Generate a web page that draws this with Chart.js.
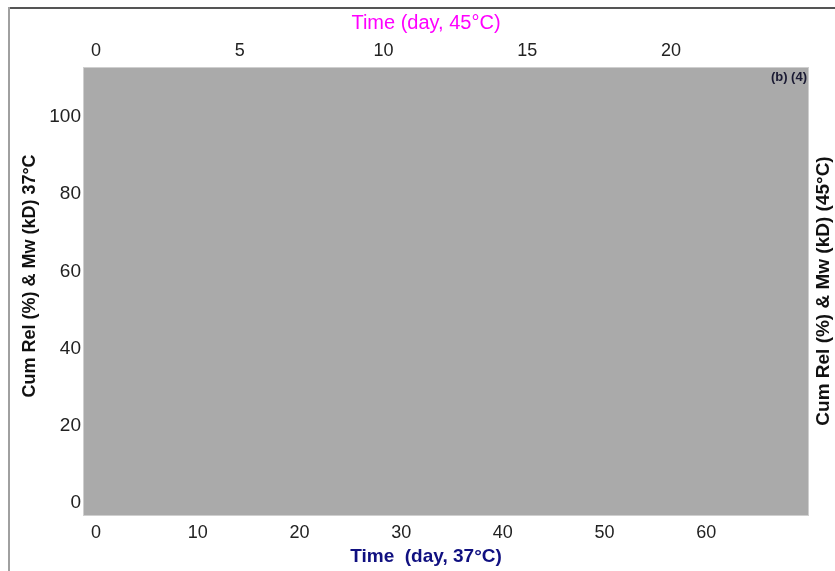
<!DOCTYPE html>
<html>
<head>
<meta charset="utf-8">
<script src="https://cdn.jsdelivr.net/npm/chart.js@4"></script>
<style>
  html,body{margin:0;padding:0;background:#fff;}
  #wrap{width:835px;height:571px;}
</style>
</head>
<body>
<div id="wrap"><canvas id="chart" width="835" height="571"></canvas></div>
<script>
// tick labels
const days37Ticks = [0,10,20,30,40,50,60];
const days45Ticks = [0,5,10,15,20];
const cumRelTicks = [0,20,40,60,80,100];

// series (the panel shows no points)
const cumRel37 = [];
const cumRel45 = [];

const FONT = "'Liberation Sans', Arial, sans-serif";

const frame = {
  id:"frame",
  beforeDraw(c){
    const ctx = c.ctx, a = c.chartArea;
    ctx.save();
    ctx.fillStyle = "#fff";
    ctx.fillRect(0,0,c.width,c.height);
    // plot background
    ctx.fillStyle = "#aaaaaa";
    ctx.fillRect(a.left,a.top,a.right-a.left,a.bottom-a.top);
    ctx.strokeStyle = "#cfcfcf";
    ctx.lineWidth = 1;
    ctx.strokeRect(a.left-0.5,a.top-0.5,a.right-a.left+1,a.bottom-a.top+1);
    // outer frame lines
    ctx.fillStyle = "#555";
    ctx.fillRect(8,7,c.width-8,2);
    ctx.fillStyle = "#a0a0a0";
    ctx.fillRect(8,7,2,c.height-7);
    ctx.restore();
  },
  afterDraw(c){
    const ctx = c.ctx, a = c.chartArea;
    ctx.save();
    ctx.textAlign = "center";
    ctx.textBaseline = "middle";
    // top title
    ctx.fillStyle = "#ff00ff";
    ctx.font = "20px " + FONT;
    ctx.fillText("Time (day, 45°C)", 426, 23);
    // bottom title
    ctx.fillStyle = "#101080";
    ctx.font = "bold 19px " + FONT;
    ctx.fillText("Time  (day, 37°C)", 426, 557);
    // left title
    ctx.fillStyle = "#111";
    ctx.font = "bold 18px " + FONT;
    ctx.save();
    ctx.translate(30,276);
    ctx.rotate(-Math.PI/2);
    ctx.fillText("Cum Rel (%) & Mw (kD) 37°C",0,0);
    ctx.restore();
    // right title
    ctx.font = "bold 19px " + FONT;
    ctx.save();
    ctx.translate(824,291);
    ctx.rotate(-Math.PI/2);
    ctx.fillText("Cum Rel (%) & Mw (kD) (45°C)",0,0);
    ctx.restore();
    // panel tag
    ctx.textAlign = "right";
    ctx.fillStyle = "#1a1a33";
    ctx.font = "bold 13px " + FONT;
    ctx.fillText("(b) (4)", a.right-1, a.top+9);
    ctx.restore();
  }
};

function fixTicks(list){
  return s => { s.ticks = list.map(v=>({value:v})); };
}

new Chart(document.getElementById("chart"),{
  type:"scatter",
  data:{
    datasets:[
      {label:"37°C", data:cumRel37, xAxisID:"x", yAxisID:"y", pointRadius:4, backgroundColor:"#101080"},
      {label:"45°C", data:cumRel45, xAxisID:"x2", yAxisID:"y", pointRadius:4, backgroundColor:"#ff00ff"}
    ]
  },
  options:{
    responsive:false,
    animation:false,
    layout:{padding:0},
    plugins:{legend:{display:false}, tooltip:{enabled:false}},
    scales:{
      x:{
        type:"linear", position:"bottom", min:-1.18, max:70.0,
        grid:{display:false, drawTicks:false}, border:{display:false},
        afterBuildTicks:fixTicks(days37Ticks),
        afterFit:s=>{s.height=56;},
        ticks:{color:"#222", font:{family:FONT,size:18}, padding:7, maxRotation:0}
      },
      x2:{
        type:"linear", position:"top", min:-0.42, max:24.77,
        grid:{display:false, drawTicks:false}, border:{display:false},
        afterBuildTicks:fixTicks(days45Ticks),
        afterFit:s=>{s.height=68;},
        ticks:{color:"#222", font:{family:FONT,size:18}, padding:6, maxRotation:0}
      },
      y:{
        type:"linear", position:"left", min:-3.1, max:112.7,
        grid:{display:false, drawTicks:false}, border:{display:false},
        afterBuildTicks:fixTicks(cumRelTicks),
        afterFit:s=>{s.width=84;},
        ticks:{color:"#222", font:{family:FONT,size:19}, padding:3}
      },
      y2:{
        type:"linear", position:"right", min:-3.1, max:112.7,
        grid:{display:false, drawTicks:false}, border:{display:false},
        afterFit:s=>{s.width=27;},
        ticks:{display:false}
      }
    }
  },
  plugins:[frame]
});
</script>
</body>
</html>
